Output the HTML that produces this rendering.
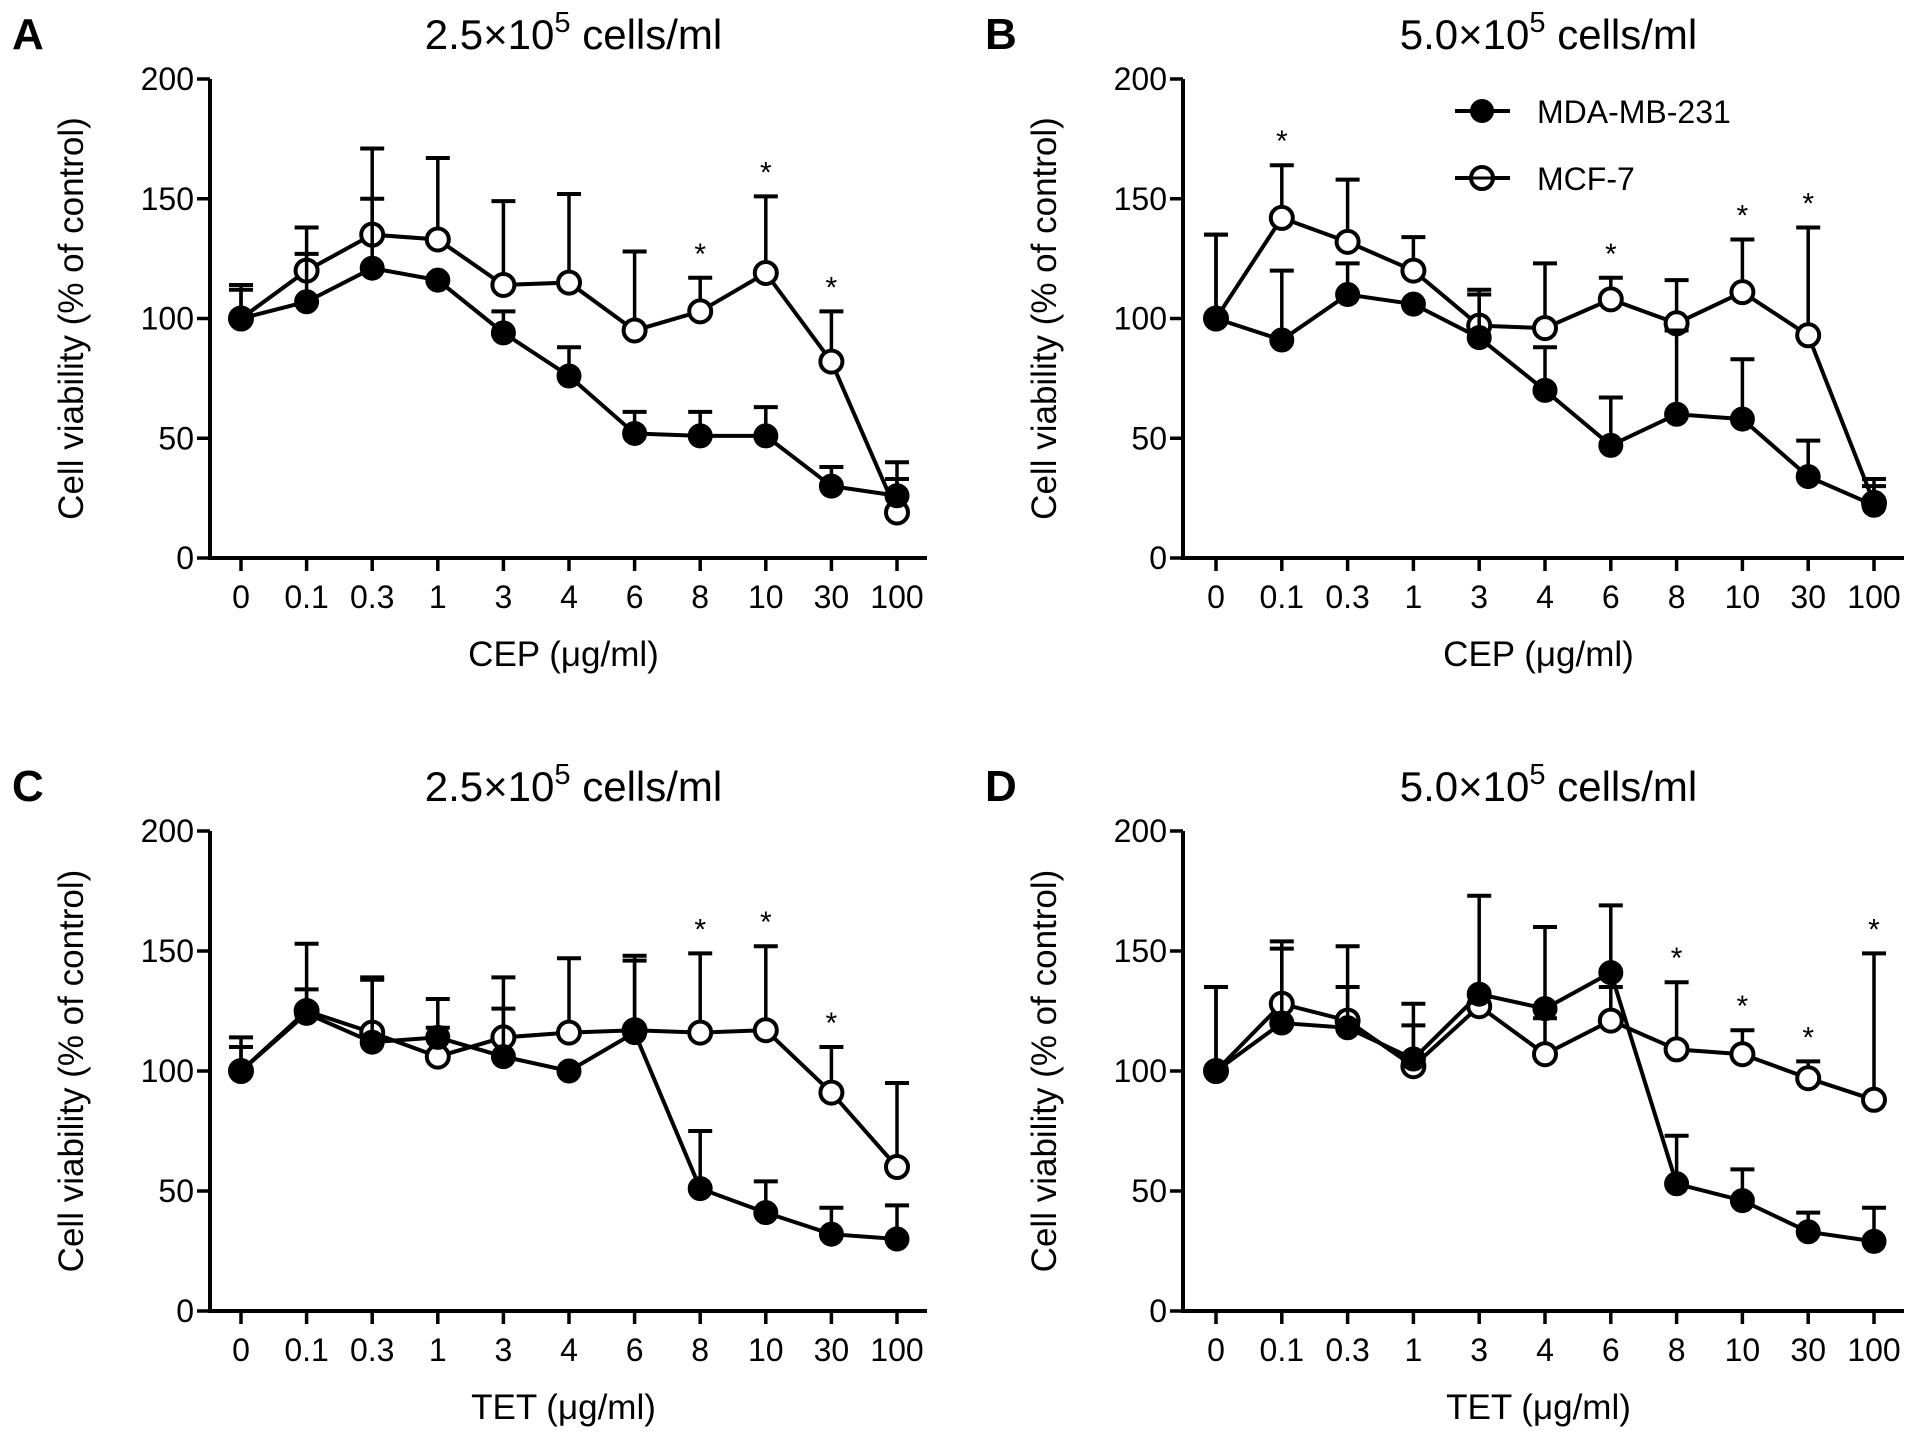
<!DOCTYPE html>
<html><head><meta charset="utf-8"><style>
html,body{margin:0;padding:0;background:#fff;}
svg{display:block;font-family:"Liberation Sans",Arial,sans-serif;}
</style></head><body>
<svg id="fig" width="1913" height="1436" viewBox="0 0 1913 1436"></svg>
<script>
const categories = ["0","0.1","0.3","1","3","4","6","8","10","30","100"];
const yTicks = [0,50,100,150,200];
const panelLetters = ["A","B","C","D"];
const panelTitles = ["2.5×10","5.0×10","2.5×10","5.0×10"];
const panelXLabels = ["CEP (μg/ml)","CEP (μg/ml)","TET (μg/ml)","TET (μg/ml)"];
const mdaA = [100,107,121,116,94,76,52,51,51,30,26];
const mdaAErr = [112,127,150,116,103,88,61,61,63,38,33];
const mcfA = [100,120,135,133,114,115,95,103,119,82,19];
const mcfAErr = [114,138,171,167,149,152,128,117,151,103,40];
const starsA = [7,8,9];
const mdaB = [100,91,110,106,92,70,47,60,58,34,22];
const mdaBErr = [135,120,123,106,110,88,67,95,83,49,33];
const mcfB = [100,142,132,120,97,96,108,98,111,93,23];
const mcfBErr = [135,164,158,134,112,123,117,116,133,138,30];
const starsB = [1,6,8,9];
const mdaC = [100,124,112,114,106,100,116,51,41,32,30];
const mdaCErr = [110,134,138,118,126,100,146,75,54,43,44];
const mcfC = [100,125,116,106,114,116,117,116,117,91,60];
const mcfCErr = [114,153,139,130,139,147,148,149,152,110,95];
const starsC = [7,8,9];
const mdaD = [100,120,118,105,132,126,141,53,46,33,29];
const mdaDErr = [135,151,135,128,173,160,169,73,59,41,43];
const mcfD = [100,128,121,102,127,107,121,109,107,97,88];
const mcfDErr = [135,154,152,119,126,122,135,137,117,104,149];
const starsD = [7,8,9,10];

const panels = [
 {ax:210, x0:241, x1:897, y0:558, y200:79, mda:mdaA, mdaE:mdaAErr, mcf:mcfA, mcfE:mcfAErr, stars:starsA},
 {ax:1183, x0:1216, x1:1874, y0:558, y200:79, mda:mdaB, mdaE:mdaBErr, mcf:mcfB, mcfE:mcfBErr, stars:starsB},
 {ax:210, x0:241, x1:897, y0:1311, y200:831, mda:mdaC, mdaE:mdaCErr, mcf:mcfC, mcfE:mcfCErr, stars:starsC},
 {ax:1183, x0:1216, x1:1874, y0:1311, y200:831, mda:mdaD, mdaE:mdaDErr, mcf:mcfD, mcfE:mcfDErr, stars:starsD}
];
const NS="http://www.w3.org/2000/svg";
const svg=document.getElementById('fig');
function mk(tag,attrs,parent,text){const e=document.createElementNS(NS,tag);for(const k in attrs)e.setAttribute(k,attrs[k]);if(text!==undefined)e.textContent=text;(parent||svg).appendChild(e);return e;}

panels.forEach((p,pi)=>{
  const g=mk('g',{});
  
  
  const xs=i=>p.x0+(p.x1-p.x0)*i/(categories.length-1);
  const ys=v=>p.y0-(p.y0-p.y200)*v/200;
  const xEnd=p.x1+30;
  const L=mk('text',{x:p.ax-198,y:p.y200-30,'font-size':44,'font-weight':'bold'},g,panelLetters[pi]);
  
  
  const cx=(p.ax+xEnd)/2+5;
  const T=mk('text',{x:cx,y:p.y200-30,'font-size':42,'text-anchor':'middle'},g);
  
  
  mk('tspan',{},T,panelTitles[pi]);
  mk('tspan',{dy:-17,'font-size':29},T,'5');
  mk('tspan',{dy:17},T,' cells/ml');
  const ya=mk('line',{x1:p.ax,y1:p.y200,x2:p.ax,y2:p.y0,stroke:'#000','stroke-width':4},g);
  
  
  const xa=mk('line',{x1:p.ax-2,y1:p.y0,x2:xEnd,y2:p.y0,stroke:'#000','stroke-width':4},g);
  
  
  yTicks.forEach(t=>{
    mk('line',{x1:p.ax-13,y1:ys(t),x2:p.ax,y2:ys(t),stroke:'#000','stroke-width':3.5},g);
    const tl=mk('text',{x:p.ax-16,y:ys(t)+11,'font-size':32,'text-anchor':'end'},g,String(t));
    
    
  });
  categories.forEach((c,i)=>{
    mk('line',{x1:xs(i),y1:p.y0,x2:xs(i),y2:p.y0+13,stroke:'#000','stroke-width':3.5},g);
    const tl=mk('text',{x:xs(i),y:p.y0+50,'font-size':32,'text-anchor':'middle'},g,c);
    
    
  });
  const yl=mk('text',{x:0,y:0,'font-size':35,'text-anchor':'middle',transform:`translate(${p.ax-127},${(p.y0+p.y200)/2}) rotate(-90)`},g,'Cell viability (% of control)');
  
  
  const xl=mk('text',{x:cx-10,y:p.y0+108,'font-size':35,'text-anchor':'middle'},g,panelXLabels[pi]);
  
  
  [[p.mcf,p.mcfE,false],[p.mda,p.mdaE,true]].forEach(([vals,errs,filled])=>{
    const sg=mk('g',{},g);
    
    
    vals.forEach((v,i)=>{
      mk('line',{x1:xs(i),y1:ys(v),x2:xs(i),y2:ys(errs[i]),stroke:'#000','stroke-width':3.5},sg);
      mk('line',{x1:xs(i)-12,y1:ys(errs[i]),x2:xs(i)+12,y2:ys(errs[i]),stroke:'#000','stroke-width':4},sg);
    });
    const pts=vals.map((v,i)=>xs(i)+','+ys(v)).join(' ');
    mk('polyline',{points:pts,fill:'none',stroke:'#000','stroke-width':4},sg);
    vals.forEach((v,i)=>{
      const m=mk('circle',{cx:xs(i),cy:ys(v),r:filled?10.5:11,fill:filled?'#000':'#fff',stroke:'#000','stroke-width':4},sg);
      
      
    });
  });
  p.stars.forEach(i=>{
    const s=mk('text',{x:xs(i),y:ys(p.mcfE[i])-14,'font-size':30,'text-anchor':'middle'},g,'*');
    
    
  });
});
const lg=mk('g',{});


[[111,true,'MDA-MB-231'],[178,false,'MCF-7']].forEach(([y,f,t])=>{
  const e=mk('g',{},lg);
  
  
  mk('line',{x1:1455,y1:y,x2:1510,y2:y,stroke:'#000','stroke-width':4},e);
  mk('circle',{cx:1482,cy:y,r:f?10:11,fill:f?'#000':'#fff',stroke:'#000','stroke-width':4},e);
  mk('line',{x1:1471,y1:y,x2:1493,y2:y,stroke:'#000','stroke-width':3},e);
  mk('text',{x:1537,y:y+12,'font-size':32},e,t);
});
</script>
</body></html>
